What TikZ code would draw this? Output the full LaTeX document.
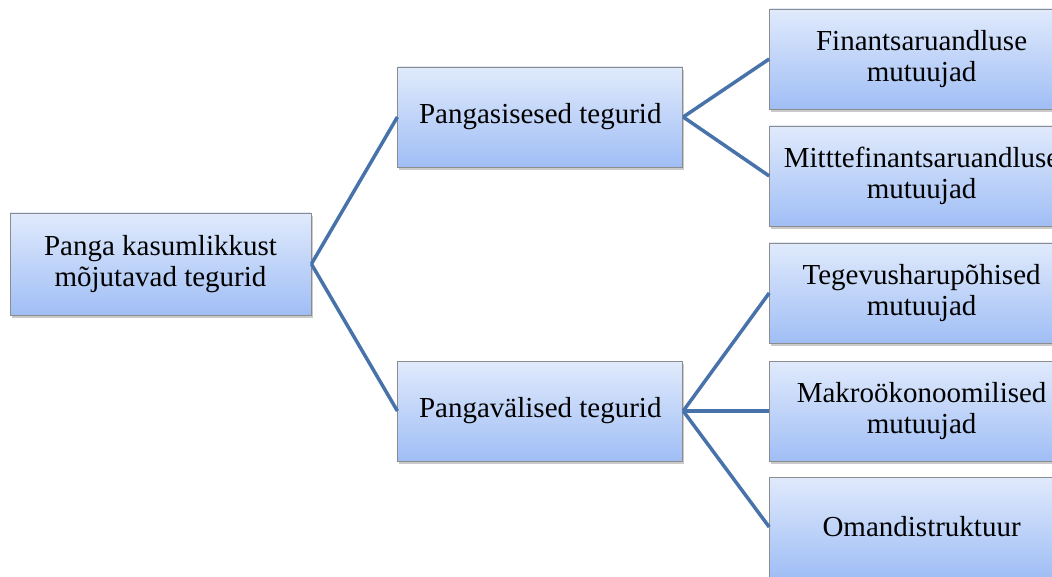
\documentclass[tikz,border=0pt]{standalone}
\usepackage{fontspec}
\setmainfont{Liberation Serif}
\usetikzlibrary{positioning,shadows}
\definecolor{boxtop}{RGB}{224,234,252}
\definecolor{boxbot}{RGB}{160,190,245}
\definecolor{boxline}{RGB}{140,140,140}
\definecolor{linkcol}{RGB}{72,115,170}

\begin{document}
\begin{tikzpicture}[
  every node/.style={font=\fontsize{29}{30.5}\selectfont},
  box/.style={draw=boxline, line width=0.8pt, top color=boxtop, bottom color=boxbot,
    align=center, inner sep=2pt, minimum height=100pt,
    drop shadow={shadow xshift=1.5pt, shadow yshift=-3pt, opacity=0.35, fill=black!60}},
  leaf/.style={box, minimum width=296pt, text width=300pt},
  link/.style={draw=linkcol, line width=3.5pt}
]
\useasboundingbox (0,0) rectangle (1052pt,-577pt);
\clip (0,0) rectangle (1052pt,-577pt);

% =================== root ===================
\node[box, minimum width=301pt, minimum height=102pt] (root) at (160.5pt,-264pt)
  {Panga kasumlikkust\\ mõjutavad tegurid};

% =================== level 2 ===================
\node[box, minimum width=285pt, right=86pt of root, yshift=147pt] (sise) {Pangasisesed tegurid};
\node[box, minimum width=285pt, right=86pt of root, yshift=-147pt] (vali) {Pangavälised tegurid};

% =================== level 3 ===================
\node[leaf, right=86pt of sise, yshift=58pt] (fin) {Finantsaruandluse\\ mutuujad};
\node[leaf, right=86pt of sise, yshift=-59pt] (mittefin) {Mitttefinantsaruandluse\\ mutuujad};
\node[leaf, right=86pt of vali, yshift=118pt] (tege) {Tegevusharupõhised\\ mutuujad};
\node[leaf, right=86pt of vali] (makro) {Makroökonoomilised\\ mutuujad};
\node[leaf, right=86pt of vali, yshift=-116pt] (omand) {Omandistruktuur};

% =================== links ===================
\draw[link] (root.east) -- (sise.west);
\draw[link] (root.east) -- (vali.west);
\draw[link] (sise.east) -- (fin.west);
\draw[link] (sise.east) -- (mittefin.west);
\draw[link] (vali.east) -- (tege.west);
\draw[link] (vali.east) -- (makro.west);
\draw[link] (vali.east) -- (omand.west);

\end{tikzpicture}
\end{document}
